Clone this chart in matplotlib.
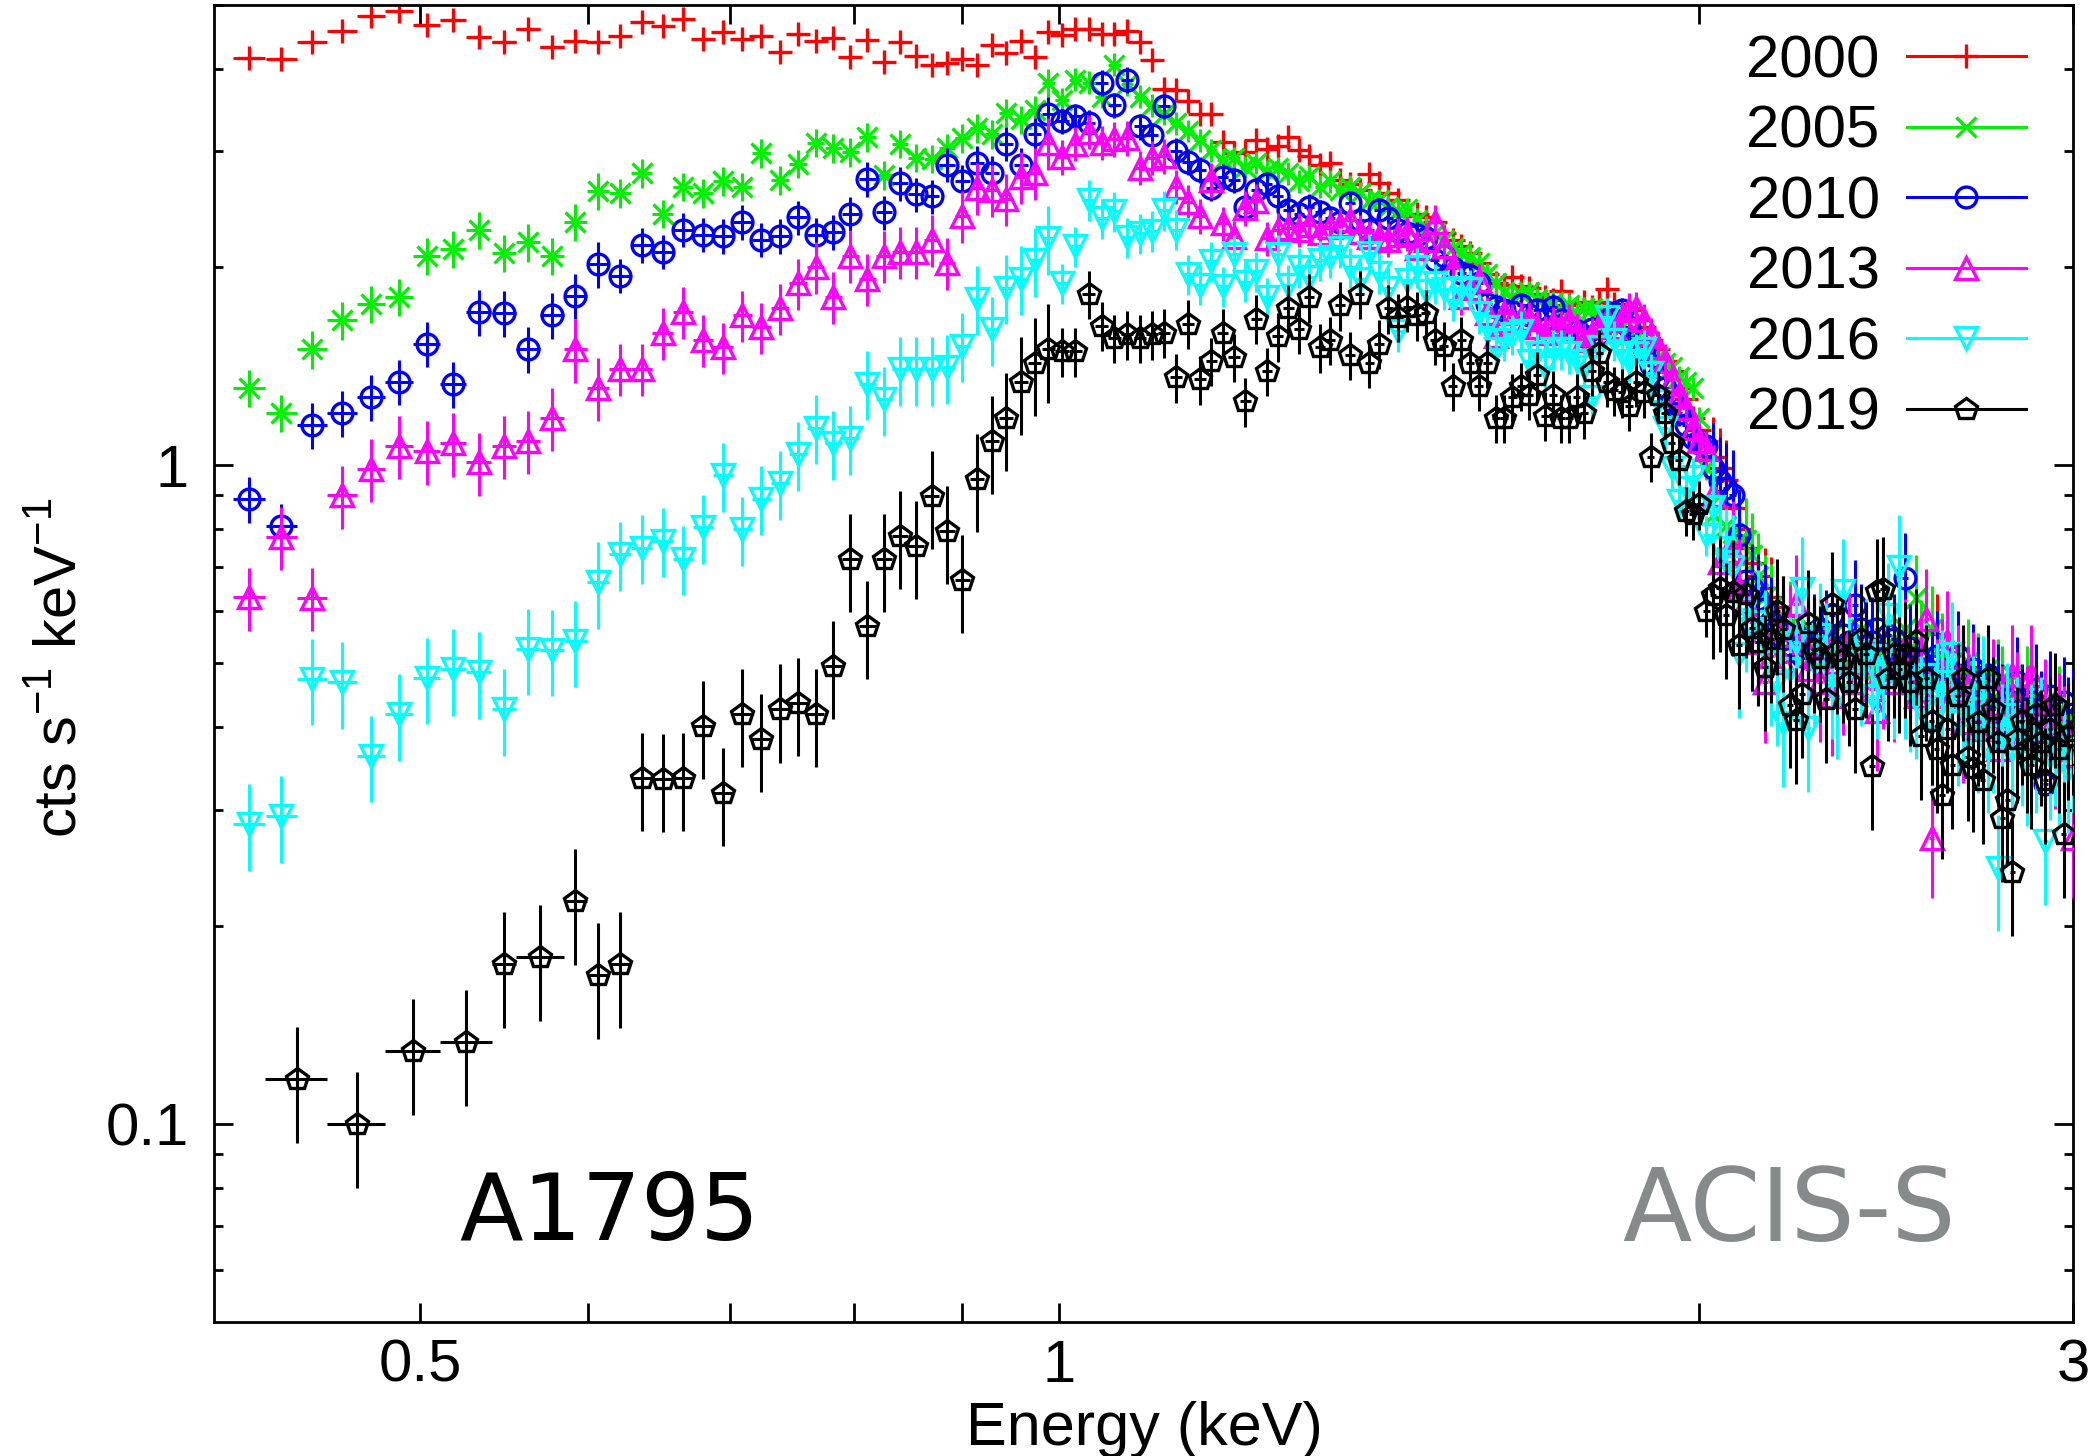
import numpy as np
import matplotlib
matplotlib.use("Agg")
import matplotlib.pyplot as plt
from matplotlib.lines import Line2D
from matplotlib.ticker import FixedLocator, FixedFormatter, NullLocator

plt.rcParams['font.family'] = ['Liberation Sans', 'DejaVu Sans']
plt.rcParams['mathtext.fontset'] = 'custom'
plt.rcParams['mathtext.rm'] = 'Liberation Sans'

# ACIS channel energies (keV)
energy = [
    0.4156, 0.4303, 0.4450, 0.4596, 0.4743, 0.4890, 0.5037, 0.5184, 0.5330, 0.5477,
    0.5624, 0.5771, 0.5918, 0.6064, 0.6211, 0.6358, 0.6505, 0.6652, 0.6798, 0.6945,
    0.7092, 0.7239, 0.7386, 0.7532, 0.7679, 0.7826, 0.7973, 0.8120, 0.8266, 0.8413,
    0.8560, 0.8707, 0.8854, 0.9000, 0.9147, 0.9294, 0.9441, 0.9588, 0.9734, 0.9881,
    1.0028, 1.0175, 1.0322, 1.0468, 1.0615, 1.0762, 1.0909, 1.1056, 1.1202, 1.1349,
    1.1496, 1.1643, 1.1790, 1.1936, 1.2083, 1.2230, 1.2377, 1.2524, 1.2670, 1.2817,
    1.2964, 1.3111, 1.3258, 1.3404, 1.3551, 1.3698, 1.3845, 1.3992, 1.4138, 1.4285,
    1.4432, 1.4579, 1.4726, 1.4872, 1.5019, 1.5166, 1.5313, 1.5460, 1.5606, 1.5753,
    1.5900, 1.6047, 1.6194, 1.6340, 1.6487, 1.6634, 1.6781, 1.6928, 1.7074, 1.7221,
    1.7368, 1.7515, 1.7662, 1.7808, 1.7955, 1.8102, 1.8249, 1.8396, 1.8542, 1.8689,
    1.8836, 1.8983, 1.9130, 1.9276, 1.9423, 1.9570, 1.9717, 1.9864, 2.0010, 2.0157,
    2.0304, 2.0451, 2.0598, 2.0744, 2.0891, 2.1038, 2.1185, 2.1332, 2.1478, 2.1625,
    2.1772, 2.1919, 2.2066, 2.2212, 2.2359, 2.2506, 2.2653, 2.2800, 2.2946, 2.3093,
    2.3240, 2.3387, 2.3534, 2.3680, 2.3827, 2.3974, 2.4121, 2.4268, 2.4414, 2.4561,
    2.4708, 2.4855, 2.5002, 2.5148, 2.5295, 2.5442, 2.5589, 2.5736, 2.5882, 2.6029,
    2.6176, 2.6323, 2.6470, 2.6616, 2.6763, 2.6910, 2.7057, 2.7204, 2.7350, 2.7497,
    2.7644, 2.7791, 2.7938, 2.8084, 2.8231, 2.8378, 2.8525, 2.8672, 2.8818, 2.8965,
    2.9112, 2.9259, 2.9406, 2.9552, 2.9699, 2.9846, 2.9993,
]
chan_half = 0.0073

counts_2000 = [
    4.15, 4.14, 4.39, 4.56, 4.81, 4.89, 4.66, 4.74, 4.47, 4.39,
    4.59, 4.31, 4.41, 4.39, 4.49, 4.71, 4.65, 4.76, 4.44, 4.55,
    4.44, 4.48, 4.24, 4.52, 4.41, 4.45, 4.17, 4.42, 4.09, 4.39,
    4.18, 4.06, 4.08, 4.14, 4.05, 4.35, 4.23, 4.41, 4.17, 4.55,
    4.50, 4.59, 4.60, 4.51, 4.52, 4.56, 4.39, 4.13, 3.73, 3.72,
    3.57, 3.42, 3.41, 3.10, 2.98, 2.99, 3.12, 3.02, 3.05, 3.15,
    3.01, 2.95, 2.86, 2.88, 2.71, 2.67, 2.62, 2.77, 2.68, 2.59,
    2.53, 2.39, 2.41, 2.38, 2.34, 2.25, 2.20, 2.15, 2.10, 2.03,
    1.95, 1.89, 1.88, 1.93, 1.87, 1.86, 1.82, 1.80, 1.78, 1.84,
    1.75, 1.72, 1.77, 1.74, 1.77, 1.85, 1.76, 1.70, 1.72, 1.66,
    1.62, 1.55, 1.50, 1.44, 1.39, 1.31, 1.26, 1.18, 1.13, 1.09,
    1.03, 0.99, 0.95, 0.86, 0.80, 0.75, 0.71, 0.68, 0.65, 0.63,
    0.61, 0.59, 0.565, 0.57, 0.55, 0.54, 0.544, 0.56, 0.534, 0.514,
    0.545, 0.527, 0.503, 0.539, 0.519, 0.491, 0.515, 0.529, 0.496, 0.48,
    0.512, 0.503, 0.469, 0.51, 0.49, 0.458, 0.48, 0.496, 0.554, 0.469,
    0.478, 0.447, 0.465, 0.49, 0.437, 0.494, 0.458, 0.427, 0.469, 0.447,
    0.417, 0.458, 0.407, 0.437, 0.447, 0.398, 0.427, 0.388, 0.437, 0.407,
    0.417, 0.38, 0.427, 0.398, 0.371, 0.407, 0.349,
]

counts_2005 = [
    1.31, 1.20, 1.50, 1.66, 1.76, 1.80, 2.08, 2.13, 2.28, 2.10,
    2.18, 2.08, 2.34, 2.61, 2.59, 2.78, 2.41, 2.65, 2.59, 2.70,
    2.65, 2.98, 2.71, 2.87, 3.09, 3.03, 2.99, 3.15, 2.76, 3.08,
    2.93, 2.92, 3.03, 3.14, 3.25, 3.18, 3.43, 3.35, 3.46, 3.81,
    3.59, 3.85, 3.81, 3.63, 4.06, 3.79, 3.63, 3.52, 3.42, 3.31,
    3.22, 3.12, 3.01, 2.91, 2.93, 2.84, 2.88, 2.80, 2.83, 2.78,
    2.70, 2.75, 2.65, 2.70, 2.62, 2.65, 2.59, 2.52, 2.53, 2.47,
    2.43, 2.45, 2.36, 2.30, 2.25, 2.20, 2.14, 2.10, 2.07, 2.03,
    1.95, 1.89, 1.83, 1.80, 1.82, 1.83, 1.79, 1.75, 1.77, 1.72,
    1.75, 1.69, 1.73, 1.73, 1.67, 1.69, 1.64, 1.62, 1.58, 1.56,
    1.53, 1.50, 1.46, 1.43, 1.41, 1.36, 1.34, 1.31, 1.18, 0.99,
    0.84, 0.90, 0.81, 0.79, 0.77, 0.77, 0.73, 0.68, 0.63, 0.61,
    0.586, 0.565, 0.575, 0.552, 0.539, 0.57, 0.527, 0.544, 0.514, 0.552,
    0.519, 0.534, 0.503, 0.527, 0.565, 0.51, 0.519, 0.491, 0.527, 0.503,
    0.544, 0.514, 0.565, 0.527, 0.629, 0.539, 0.503, 0.565, 0.491, 0.514,
    0.48, 0.503, 0.469, 0.491, 0.503, 0.458, 0.48, 0.447, 0.491, 0.437,
    0.469, 0.458, 0.427, 0.48, 0.437, 0.417, 0.458, 0.427, 0.447, 0.407,
    0.437, 0.417, 0.398, 0.427, 0.407, 0.388, 0.407,
]

counts_2010 = [
    0.889, 0.810, 1.15, 1.20, 1.27, 1.34, 1.53, 1.33, 1.71, 1.70,
    1.50, 1.69, 1.81, 2.02, 1.94, 2.16, 2.11, 2.28, 2.24, 2.23,
    2.34, 2.20, 2.23, 2.38, 2.24, 2.26, 2.41, 2.72, 2.42, 2.68,
    2.58, 2.56, 2.86, 2.70, 2.88, 2.78, 3.08, 2.86, 3.18, 3.42,
    3.33, 3.39, 3.31, 3.81, 3.52, 3.85, 3.27, 3.17, 3.51, 3.00,
    2.89, 2.81, 2.64, 2.74, 2.71, 2.47, 2.62, 2.67, 2.56, 2.44,
    2.41, 2.47, 2.42, 2.37, 2.34, 2.50, 2.36, 2.28, 2.44, 2.37,
    2.28, 2.25, 2.24, 2.21, 2.05, 2.08, 1.99, 1.96, 1.94, 1.89,
    1.76, 1.74, 1.72, 1.71, 1.75, 1.69, 1.72, 1.67, 1.74, 1.66,
    1.62, 1.60, 1.57, 1.61, 1.58, 1.66, 1.70, 1.72, 1.62, 1.55,
    1.50, 1.42, 1.36, 1.31, 1.25, 1.20, 1.15, 1.10, 1.08, 1.07,
    0.99, 0.945, 0.924, 0.90, 0.784, 0.668, 0.65, 0.626, 0.606, 0.578,
    0.565, 0.544, 0.534, 0.552, 0.514, 0.527, 0.544, 0.565, 0.552, 0.592,
    0.519, 0.552, 0.539, 0.614, 0.565, 0.527, 0.539, 0.565, 0.514, 0.552,
    0.544, 0.503, 0.675, 0.527, 0.51, 0.503, 0.491, 0.48, 0.514, 0.469,
    0.491, 0.458, 0.514, 0.48, 0.447, 0.491, 0.469, 0.437, 0.48, 0.447,
    0.458, 0.427, 0.407, 0.447, 0.469, 0.427, 0.398, 0.437, 0.458, 0.417,
    0.328, 0.447, 0.427, 0.398, 0.437, 0.407, 0.419,
]

counts_2013 = [
    0.630, 0.779, 0.629, 0.900, 0.987, 1.07, 1.05, 1.08, 1.01, 1.07,
    1.09, 1.18, 1.50, 1.31, 1.40, 1.40, 1.59, 1.71, 1.55, 1.51,
    1.69, 1.62, 1.73, 1.89, 2.00, 1.80, 2.08, 1.92, 2.08, 2.11,
    2.11, 2.20, 2.03, 2.39, 2.64, 2.62, 2.54, 2.74, 2.78, 3.09,
    2.94, 3.08, 3.21, 3.09, 3.13, 3.14, 2.83, 2.93, 2.95, 2.65,
    2.51, 2.39, 2.71, 2.33, 2.22, 2.46, 2.52, 2.21, 2.28, 2.29,
    2.28, 2.32, 2.25, 2.30, 2.32, 2.36, 2.26, 2.22, 2.22, 2.20,
    2.24, 2.25, 2.14, 2.20, 2.34, 2.15, 2.00, 1.80, 1.86, 1.91,
    1.70, 1.57, 1.70, 1.66, 1.67, 1.67, 1.62, 1.59, 1.64, 1.62,
    1.66, 1.60, 1.55, 1.58, 1.63, 1.66, 1.62, 1.67, 1.72, 1.73,
    1.66, 1.58, 1.51, 1.44, 1.35, 1.28, 1.22, 1.14, 1.09, 1.06,
    0.902, 0.714, 0.731, 0.742, 0.65, 0.62, 0.578, 0.539, 0.468, 0.514,
    0.565, 0.503, 0.552, 0.615, 0.539, 0.491, 0.514, 0.469, 0.527, 0.447,
    0.503, 0.48, 0.539, 0.469, 0.503, 0.527, 0.458, 0.424, 0.491, 0.514,
    0.469, 0.503, 0.527, 0.469, 0.447, 0.491, 0.584, 0.272, 0.458, 0.491,
    0.541, 0.447, 0.48, 0.407, 0.447, 0.469, 0.398, 0.427, 0.407, 0.458,
    0.371, 0.417, 0.398, 0.48, 0.437, 0.388, 0.417, 0.48, 0.407, 0.38,
    0.427, 0.398, 0.371, 0.407, 0.388, 0.362, 0.272,
]

counts_2016 = [
    0.285, 0.293, 0.474, 0.468, 0.362, 0.419, 0.476, 0.490, 0.485, 0.426,
    0.526, 0.525, 0.541, 0.664, 0.733, 0.750, 0.768, 0.721, 0.805, 0.965,
    0.800, 0.889, 0.940, 1.04, 1.14, 1.08, 1.10, 1.33, 1.26, 1.40,
    1.40, 1.40, 1.41, 1.52, 1.79, 1.61, 1.86, 1.92, 2.05, 2.21,
    1.89, 2.15, 2.53, 2.37, 2.43, 2.22, 2.25, 2.27, 2.44, 2.28,
    1.95, 1.88, 2.04, 1.87, 2.09, 1.90, 1.97, 1.80, 2.09, 1.88,
    2.00, 1.93, 2.05, 2.07, 2.14, 2.00, 1.92, 2.10, 1.96, 1.86,
    1.60, 1.91, 2.00, 1.84, 1.89, 1.85, 1.78, 1.86, 1.85, 1.70,
    1.62, 1.50, 1.55, 1.58, 1.60, 1.44, 1.48, 1.41, 1.50, 1.50,
    1.48, 1.44, 1.41, 1.27, 1.51, 1.68, 1.55, 1.48, 1.44, 1.48,
    1.50, 1.38, 1.25, 1.14, 0.991, 0.884, 0.924, 0.959, 0.861, 0.784,
    0.864, 0.748, 0.714, 0.700, 0.516, 0.606, 0.565, 0.578, 0.539, 0.503,
    0.469, 0.406, 0.491, 0.539, 0.649, 0.399, 0.503, 0.552, 0.514, 0.48,
    0.447, 0.644, 0.491, 0.469, 0.503, 0.522, 0.447, 0.48, 0.514, 0.592,
    0.48, 0.70, 0.48, 0.458, 0.447, 0.427, 0.48, 0.407, 0.447, 0.469,
    0.437, 0.517, 0.407, 0.427, 0.388, 0.427, 0.398, 0.458, 0.371, 0.398,
    0.245, 0.388, 0.417, 0.371, 0.398, 0.38, 0.354, 0.388, 0.371, 0.398,
    0.269, 0.362, 0.38, 0.354, 0.371, 0.346, 0.371,
]

# 2019: channel pairs merged below 0.62 keV, then single channels from 0.636 keV
energy_2019_low = [0.4376, 0.4670, 0.4964, 0.5257, 0.5477, 0.5698, 0.5918, 0.6064, 0.6211]
halfwidth_2019_low = [0.0147, 0.0147, 0.0147, 0.0147, 0.0073, 0.0147, 0.0073, 0.0073, 0.0073]
counts_2019_low = [0.117, 0.100, 0.129, 0.133, 0.175, 0.179, 0.218, 0.168, 0.175]
counts_2019 = [
    0.335, 0.334, 0.335, 0.402, 0.318,
    0.419, 0.384, 0.426, 0.436, 0.419, 0.496, 0.721, 0.570, 0.721, 0.782,
    0.755, 0.898, 0.796, 0.670, 0.953, 1.09, 1.18, 1.34, 1.43, 1.50,
    1.49, 1.49, 1.82, 1.63, 1.56, 1.58, 1.56, 1.58, 1.59, 1.36,
    1.64, 1.35, 1.44, 1.59, 1.46, 1.25, 1.67, 1.39, 1.57, 1.73,
    1.61, 1.80, 1.51, 1.55, 1.75, 1.47, 1.82, 1.43, 1.53, 1.73,
    1.68, 1.74, 1.69, 1.70, 1.55, 1.52, 1.32, 1.55, 1.43, 1.32,
    1.43, 1.18, 1.18, 1.27, 1.32, 1.28, 1.37, 1.19, 1.28, 1.18,
    1.18, 1.27, 1.20, 1.39, 1.48, 1.34, 1.30, 1.29, 1.23, 1.34,
    1.29, 1.03, 1.28, 1.20, 1.08, 1.02, 0.853, 0.843, 0.873, 0.600,
    0.635, 0.650, 0.592, 0.641, 0.534, 0.637, 0.567, 0.539, 0.494, 0.544,
    0.600, 0.565, 0.433, 0.410, 0.449, 0.577, 0.526, 0.510, 0.441, 0.615,
    0.523, 0.508, 0.469, 0.426, 0.544, 0.516, 0.349, 0.644, 0.649, 0.476,
    0.516, 0.491, 0.517, 0.469, 0.541, 0.388, 0.476, 0.409, 0.371, 0.316,
    0.398, 0.351, 0.447, 0.476, 0.360, 0.347, 0.407, 0.333, 0.476, 0.426,
    0.380, 0.291, 0.310, 0.241, 0.384, 0.409, 0.371, 0.351, 0.419, 0.380,
    0.333, 0.398, 0.433, 0.371, 0.275, 0.388, 0.395,
]
first_2019 = 15  # channel index where 2019 single-channel bins start

# fractional 1-sigma errors in channel bands [0,14), [14,40), [40,110), [110,177)
band_edges = [0, 14, 40, 110, 177]
relerr_2000 = [0.03, 0.025, 0.03, 0.15]
relerr_2005 = [0.065, 0.05, 0.04, 0.16]
relerr_2010 = [0.08, 0.06, 0.045, 0.17]
relerr_2013 = [0.11, 0.09, 0.06, 0.19]
relerr_2016 = [0.15, 0.12, 0.07, 0.20]
relerr_2019 = [0.20, 0.17, 0.085, 0.20]

years = ['2000', '2005', '2010', '2013', '2016', '2019']
colors = ['#ff0000', '#00f000', '#0000ff', '#ff00ff', '#00ffff', '#000000']
markers = ['+', 'x', 'o', '^', 'v', 'p']
msizes = [17, 15, 15, 16, 16, 16]
mew = 2.4
elw = 2.2

fig = plt.figure(figsize=(20.94, 14.56), dpi=100)
ax = fig.add_axes([0.1022, 0.0920, 0.8878, 0.9046])
ax.set_xscale('log')
ax.set_yscale('log')

band_len = np.diff(band_edges)
grid_sets = [counts_2000, counts_2005, counts_2010, counts_2013, counts_2016]
grid_errs = [relerr_2000, relerr_2005, relerr_2010, relerr_2013, relerr_2016]
E = np.array(energy)

for i in range(5):
    y = np.array(grid_sets[i])
    err = y * np.repeat(grid_errs[i], band_len)
    ax.errorbar(E, y, xerr=chan_half, yerr=err, fmt=markers[i], color=colors[i],
                mfc='none', mec=colors[i], mew=mew, ms=msizes[i],
                elinewidth=elw, capsize=0, zorder=2 + i)

# 2019 has merged low-energy bins
y19 = np.array(counts_2019_low + counts_2019)
e19 = np.array(energy_2019_low + energy[first_2019:])
xe19 = np.array(halfwidth_2019_low + [chan_half] * (len(energy) - first_2019))
rel19 = np.concatenate([[relerr_2019[0]] * len(counts_2019_low),
                        np.repeat(relerr_2019[1:], np.diff([first_2019, 40, 110, 177]))])
ax.errorbar(e19, y19, xerr=xe19, yerr=y19 * rel19, fmt=markers[5], color=colors[5],
            mfc='none', mec=colors[5], mew=mew, ms=msizes[5],
            elinewidth=elw, capsize=0, zorder=8)

ax.set_xlim(0.4, 3.0)
ax.set_ylim(0.05, 5.0)

ax.xaxis.set_major_locator(FixedLocator([0.5, 0.6, 0.7, 0.8, 0.9, 1, 2, 3]))
ax.xaxis.set_major_formatter(FixedFormatter(['0.5', '', '', '', '', '1', '', '3']))
ax.xaxis.set_minor_locator(NullLocator())
ax.yaxis.set_major_locator(FixedLocator([0.1, 1]))
ax.yaxis.set_major_formatter(FixedFormatter(['0.1', '1']))
ax.yaxis.set_minor_locator(FixedLocator([0.06, 0.07, 0.08, 0.09, 0.2, 0.3, 0.4, 0.5,
                                         0.6, 0.7, 0.8, 0.9, 2, 3, 4, 5]))
ax.tick_params(which='both', direction='in', top=True, right=True, width=2,
               labelsize=43)
ax.tick_params(which='major', length=14)
ax.tick_params(which='minor', length=6.5)
ax.tick_params(axis='x', pad=12)
ax.tick_params(axis='y', pad=18)
for s in ax.spines.values():
    s.set_linewidth(2)

handles = [Line2D([0], [0], color=colors[i], lw=2.2, marker=markers[i], ms=msizes[i],
                  mfc='none', mec=colors[i], mew=mew) for i in range(6)]
ax.legend(handles, years, loc='upper right', bbox_to_anchor=(2026 / 2094, 1 - 34 / 1456),
          bbox_transform=fig.transFigure, markerfirst=False, frameon=False,
          fontsize=43, handlelength=2.0, handletextpad=0.45, labelspacing=0.26,
          borderaxespad=0, borderpad=0)

fig.text(459 / 2094, 1 - 1240 / 1456, 'A1795', fontsize=67, family='DejaVu Sans',
         ha='left', va='baseline')
fig.text(1622 / 2094, 1 - 1241 / 1456, 'ACIS-S', fontsize=73, family='DejaVu Sans',
         color='#878a8a', ha='left', va='baseline')
fig.text(0.5465, 0.0076, 'Energy (keV)', fontsize=44, ha='center', va='baseline')
fig.text(0.0287, 0.5412, r'cts s$^{\mathregular{-1}}$ keV$^{\mathregular{-1}}$',
         fontsize=43, rotation=90, ha='center', va='center')

fig.savefig('out.png', dpi=100)
